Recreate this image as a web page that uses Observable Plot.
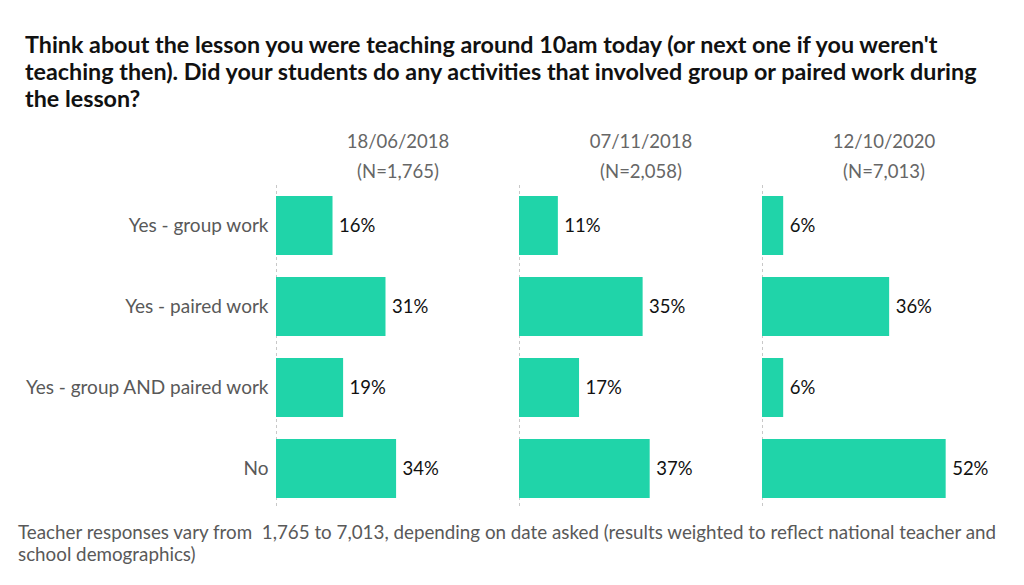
<!DOCTYPE html>
<html>
<head>
<meta charset="utf-8">
<script src="https://cdn.jsdelivr.net/npm/d3@7"></script>
<script src="https://cdn.jsdelivr.net/npm/@observablehq/plot@0.6"></script>
<style>
  html, body { margin: 0; padding: 0; background: #fff; }
  body { width: 1024px; height: 585px; overflow: hidden; font-family: Lato, "Open Sans", sans-serif; }
  #title { padding: 31px 0 0 25px; font-size: 23.3px; line-height: 27px; font-weight: bold; color: #111; height: 81px; white-space: nowrap; }
  #caption { padding: 0 0 0 18px; font-size: 18.8px; line-height: 22px; color: #595959; margin-top: 6px; white-space: nowrap; }
  svg { display: block; }
</style>
</head>
<body>
<div id="title">Think about the lesson you were teaching around 10am today (or next one if you weren't<br>teaching then). Did your students do any activities that involved group or paired work during<br>the lesson?</div>
<div id="chart"></div>
<div id="caption">Teacher responses vary from&nbsp; 1,765 to 7,013, depending on date asked (results weighted to reflect national teacher and<br>school demographics)</div>
<script>
const dates = ["18/06/2018", "07/11/2018", "12/10/2020"];
const sampleSizes = ["1,765", "2,058", "7,013"];
const answers = ["Yes - group work", "Yes - paired work", "Yes - group AND paired work", "No"];
const values2018June = [16, 31, 19, 34];
const values2018Nov = [11, 35, 17, 37];
const values2020Oct = [6, 36, 6, 52];

const seriesByDate = [values2018June, values2018Nov, values2020Oct];
const rows = [];
dates.forEach((d, i) => answers.forEach((a, j) => rows.push({date: d, answer: a, value: seriesByDate[i][j]})));
const headers = dates.map((d, i) => ({date: d, label: d + "\n(N=" + sampleSizes[i] + ")"}));

const fill = "#20d4a9";
const chart = Plot.plot({
  width: 1024,
  height: 403,
  marginLeft: 275,
  marginRight: 18.5,
  marginTop: 73,
  marginBottom: 6,
  style: {fontFamily: "Lato, 'Open Sans', sans-serif", fontSize: "18.5px", background: "#fff"},
  fx: {domain: dates, padding: 0, axis: null},
  x: {domain: [0, 68.8], axis: null},
  y: {domain: answers, paddingInner: 0.27, paddingOuter: 0.135, label: null},
  marks: [
    Plot.ruleX(dates, {fx: d => d, x: () => 0, stroke: "#c8c8c8", strokeDasharray: "3,3", strokeWidth: 1}),
    Plot.barX(rows, {fx: "date", y: "answer", x: "value", fill: fill}),
    Plot.text(rows, {fx: "date", y: "answer", x: "value", text: d => d.value + "%", textAnchor: "start", dx: 6, fill: "#111", fontSize: 18.5}),
    Plot.text(headers, {fx: "date", text: "label", frameAnchor: "top", lineAnchor: "bottom", dy: -8, lineHeight: 1.6, fill: "#666", fontSize: 18.5}),
    Plot.axisY({tickSize: 0, tickPadding: 8, fontSize: 19, color: "#595959", label: null})
  ]
});
document.getElementById("chart").appendChild(chart);
</script>
</body>
</html>
